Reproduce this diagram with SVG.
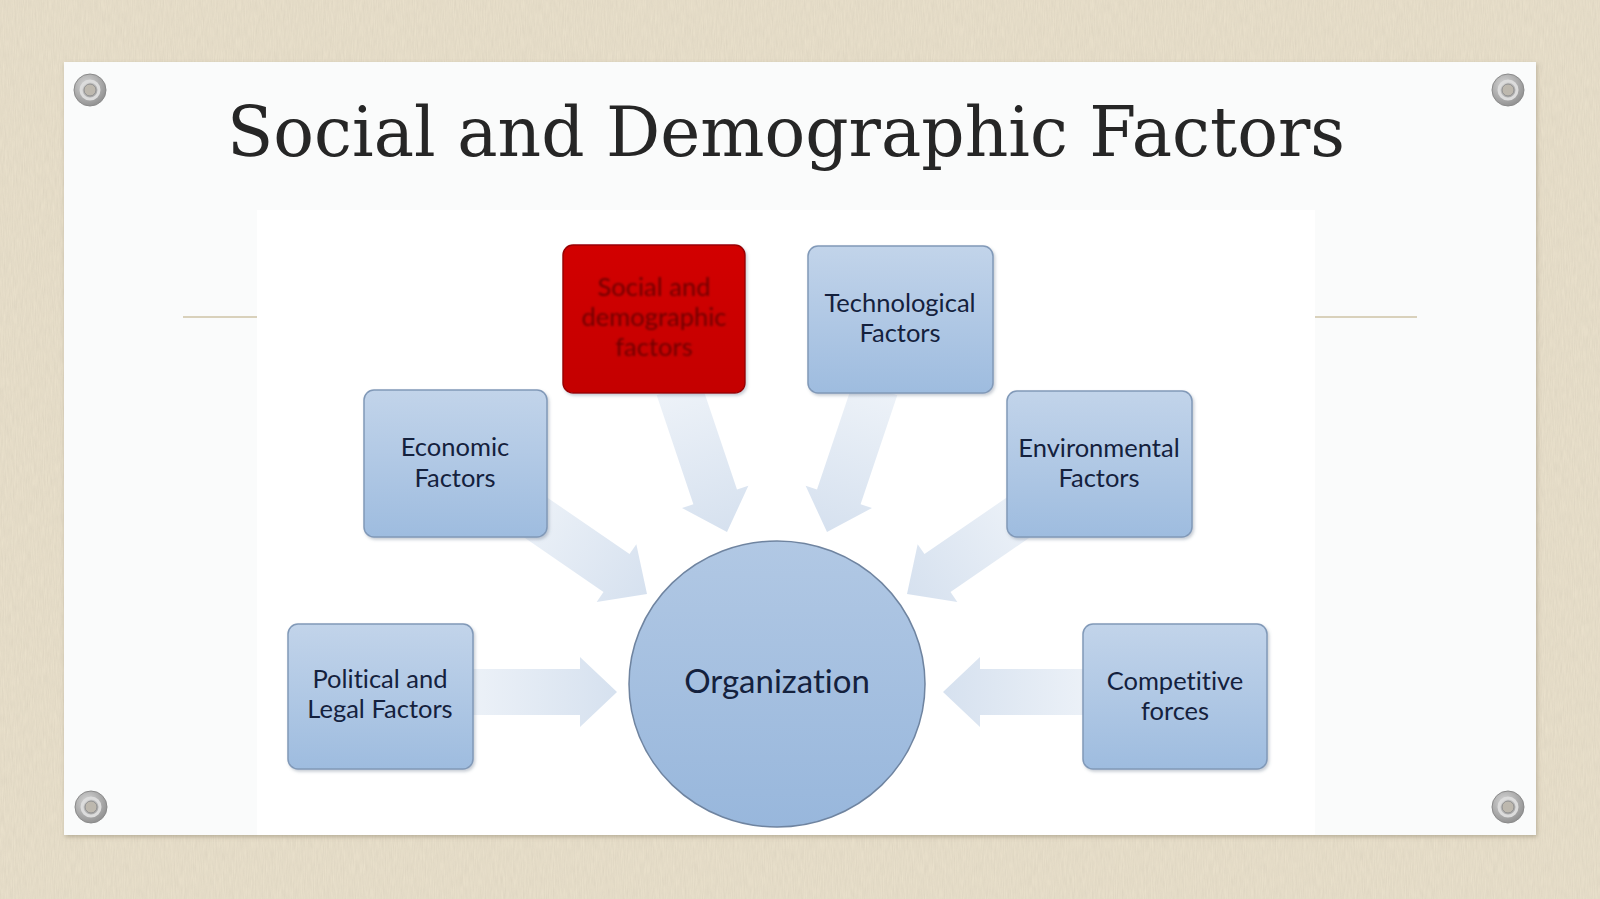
<svg xmlns="http://www.w3.org/2000/svg" width="1600" height="899" viewBox="0 0 1600 899">
  <defs>
    <style>
      text { font-variant-ligatures: none; }
      .node-text { font-family: "Lato", "Liberation Sans", sans-serif; font-size: 25.5px; fill: #14213d; text-anchor: middle; }
      .box { fill: url(#boxGrad); stroke: #8199b8; stroke-width: 1.5; filter: url(#shadow); }
      .arrow { fill: url(#arrowGrad); }
      .screw-outer { fill: url(#screwGrad); stroke: #8a8a8a; stroke-width: 1; }
      .screw-ring { fill: none; stroke: #dcdcdc; stroke-width: 3; }
      .screw-hole { fill: #bdb8ae; stroke: #8f8f8f; stroke-width: 1; }
      .deco-line { stroke: #d9d1bb; stroke-width: 2; }
    </style>
    <linearGradient id="boxGrad" x1="0" y1="0" x2="0" y2="1">
      <stop offset="0" stop-color="#c2d4ea"/>
      <stop offset="1" stop-color="#9ebcdf"/>
    </linearGradient>
    <linearGradient id="circleGrad" x1="0" y1="0" x2="0" y2="1">
      <stop offset="0" stop-color="#b1c8e4"/>
      <stop offset="1" stop-color="#98b7dc"/>
    </linearGradient>
    <linearGradient id="redGrad" x1="0" y1="0" x2="0" y2="1">
      <stop offset="0" stop-color="#d20000"/>
      <stop offset="1" stop-color="#c40000"/>
    </linearGradient>
    <linearGradient id="arrowGrad" x1="0" y1="0" x2="1" y2="0">
      <stop offset="0" stop-color="#edf2f8"/>
      <stop offset="1" stop-color="#d6e1ef"/>
    </linearGradient>
    <radialGradient id="screwGrad" cx="0.4" cy="0.35" r="0.7">
      <stop offset="0" stop-color="#d8d8d8"/>
      <stop offset="1" stop-color="#8e8e8e"/>
    </radialGradient>
    <filter id="shadow" x="-10%" y="-10%" width="125%" height="125%">
      <feDropShadow dx="1.5" dy="2" stdDeviation="1.5" flood-color="#5d6f86" flood-opacity="0.35"/>
    </filter>
    <filter id="boardShadow" x="-5%" y="-5%" width="110%" height="110%">
      <feDropShadow dx="1" dy="2" stdDeviation="2" flood-color="#8c826c" flood-opacity="0.5"/>
    </filter>
    <filter id="noise" x="0" y="0" width="100%" height="100%">
      <feTurbulence type="fractalNoise" baseFrequency="0.9 0.08" numOctaves="2" seed="3" result="n"/>
      <feColorMatrix in="n" type="matrix" values="0 0 0 0 0.55  0 0 0 0 0.5  0 0 0 0 0.4  0 0 0 0.5 0"/>
    </filter>
    <filter id="soft" x="-5%" y="-20%" width="110%" height="140%">
      <feGaussianBlur stdDeviation="0.8"/>
    </filter>
    <path id="arrowShape" d="M-152,-23 H-37 V-35 L0,0 L-37,35 V23 H-152 Z"/>
  </defs>

  <!-- background -->
  <rect x="0" y="0" width="1600" height="899" fill="#ebe2cd"/>
  <rect x="0" y="0" width="1600" height="899" filter="url(#noise)" opacity="0.7"/>

  <!-- board -->
  <rect x="64" y="62" width="1472" height="773" fill="#fafbfb" filter="url(#boardShadow)"/>
  <rect x="257" y="210" width="1058" height="625" fill="#ffffff"/>
  <line class="deco-line" x1="183" y1="317" x2="257" y2="317"/>
  <line class="deco-line" x1="1315" y1="317" x2="1417" y2="317"/>

  <!-- screws -->
  <g id="screws">
    <circle class="screw-outer" cx="90" cy="90" r="16"/><circle class="screw-ring" cx="90" cy="90" r="9"/><circle class="screw-hole" cx="90" cy="90" r="6"/>
    <circle class="screw-outer" cx="1508" cy="90" r="16"/><circle class="screw-ring" cx="1508" cy="90" r="9"/><circle class="screw-hole" cx="1508" cy="90" r="6"/>
    <circle class="screw-outer" cx="91" cy="807" r="16"/><circle class="screw-ring" cx="91" cy="807" r="9"/><circle class="screw-hole" cx="91" cy="807" r="6"/>
    <circle class="screw-outer" cx="1508" cy="807" r="16"/><circle class="screw-ring" cx="1508" cy="807" r="9"/><circle class="screw-hole" cx="1508" cy="807" r="6"/>
  </g>

  <!-- title -->
  <text id="title" x="786" y="156" font-family="'DejaVu Serif', 'Liberation Serif', serif" font-size="70" fill="#262626" text-anchor="middle" textLength="1118" lengthAdjust="spacingAndGlyphs">Social and Demographic Factors</text>

  <!-- connectors -->
  <g id="connectors">
    <use href="#arrowShape" class="arrow" transform="translate(617,692)"/>
    <use href="#arrowShape" class="arrow" transform="translate(943,692) rotate(180)"/>
    <use href="#arrowShape" class="arrow" transform="translate(647,594) rotate(34.5)"/>
    <use href="#arrowShape" class="arrow" transform="translate(907,594) rotate(145.5)"/>
    <use href="#arrowShape" class="arrow" transform="translate(727,532) rotate(71.4)"/>
    <use href="#arrowShape" class="arrow" transform="translate(827,532) rotate(108.6)"/>
  </g>

  <!-- center -->
  <g id="organization">
    <ellipse cx="777" cy="684" rx="148" ry="143" fill="url(#circleGrad)" stroke="#6f84a0" stroke-width="1.5"/>
    <text x="777" y="693" font-family="'Lato', 'Liberation Sans', sans-serif" font-size="33" fill="#14213d" text-anchor="middle">Organization</text>
  </g>

  <g id="social">
    <rect x="563" y="245" width="182" height="148" rx="10" fill="url(#redGrad)" stroke="#9a0000" stroke-width="1.5" filter="url(#shadow)"/>
    <text class="node-text" style="fill:#6e0000" filter="url(#soft)"><tspan x="654" y="296">Social and</tspan><tspan x="654" y="326">demographic</tspan><tspan x="654" y="356">factors</tspan></text>
  </g>

  <g id="technological">
    <rect class="box" x="808" y="246" width="185" height="147" rx="10"/>
    <text class="node-text"><tspan x="900" y="312">Technological</tspan><tspan x="900" y="342">Factors</tspan></text>
  </g>

  <g id="economic">
    <rect class="box" x="364" y="390" width="183" height="147" rx="10"/>
    <text class="node-text"><tspan x="455" y="456">Economic</tspan><tspan x="455" y="487">Factors</tspan></text>
  </g>

  <g id="environmental">
    <rect class="box" x="1007" y="391" width="185" height="146" rx="10"/>
    <text class="node-text"><tspan x="1099" y="457">Environmental</tspan><tspan x="1099" y="487">Factors</tspan></text>
  </g>

  <g id="political">
    <rect class="box" x="288" y="624" width="185" height="145" rx="10"/>
    <text class="node-text"><tspan x="380" y="688">Political and</tspan><tspan x="380" y="718">Legal Factors</tspan></text>
  </g>

  <g id="competitive">
    <rect class="box" x="1083" y="624" width="184" height="145" rx="10"/>
    <text class="node-text"><tspan x="1175" y="690">Competitive</tspan><tspan x="1175" y="720">forces</tspan></text>
  </g>
</svg>
